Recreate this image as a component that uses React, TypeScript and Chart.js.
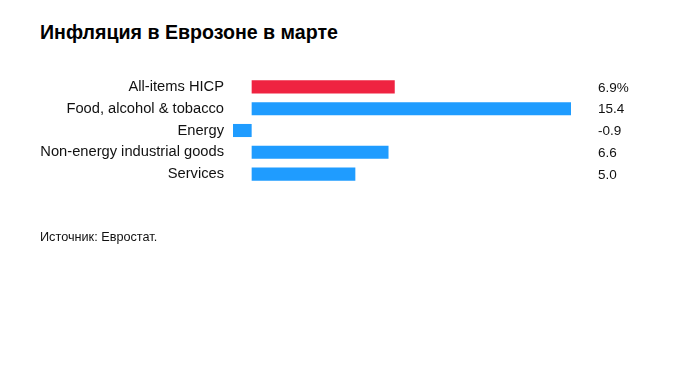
import React, { useEffect, useRef } from "react";
import { Chart, registerables } from "chart.js";

Chart.register(...registerables);

const categories = [
  "All-items HICP",
  "Food, alcohol & tobacco",
  "Energy",
  "Non-energy industrial goods",
  "Services",
];
const values = [6.9, 15.4, -0.9, 6.6, 5.0];
const valueLabels = ["6.9%", "15.4", "-0.9", "6.6", "5.0"];
const barColors = ["#EF2341", "#1F9CFF", "#1F9CFF", "#1F9CFF", "#1F9CFF"];

const FONT = "'Liberation Sans', Arial, sans-serif";

const valueLabelPlugin = {
  id: "valueLabels",
  afterDatasetsDraw(chart: any) {
    const { ctx, chartArea } = chart;
    const meta = chart.getDatasetMeta(0);
    ctx.save();
    ctx.font = `13.5px ${FONT}`;
    ctx.fillStyle = "#111";
    ctx.textAlign = "left";
    ctx.textBaseline = "middle";
    meta.data.forEach((bar: any, i: number) => {
      ctx.fillText(valueLabels[i], chartArea.right + 27, bar.y + 1);
    });
    ctx.restore();
  },
};

export default function App() {
  const ref = useRef<HTMLCanvasElement>(null);
  useEffect(() => {
    if (!ref.current) return;
    const chart = new Chart(ref.current, {
      type: "bar",
      data: {
        labels: categories,
        datasets: [
          {
            data: values,
            backgroundColor: barColors,
            borderWidth: 0,
            categoryPercentage: 1,
            barPercentage: 0.6,
          },
        ],
      },
      options: {
        indexAxis: "y",
        animation: false,
        responsive: false,
        events: [],
        layout: { padding: { left: 0, right: 108, top: 76, bottom: 192 } },
        plugins: { legend: { display: false }, tooltip: { enabled: false }, title: { display: false } },
        scales: {
          x: { display: false, min: -0.9, max: 15.4 },
          y: {
            grid: { display: false, drawTicks: false },
            border: { display: false },
            ticks: { color: "#111", font: { family: FONT, size: 14.7 }, padding: 9 },
            afterFit(scale: any) {
              scale.width = 233;
            },
          },
        },
      },
      plugins: [valueLabelPlugin],
    });
    return () => chart.destroy();
  }, []);

  return (
    <div style={{ position: "fixed", left: 0, top: 0, width: 679, height: 377, background: "#fff" }}>
      <div
        style={{
          position: "absolute",
          left: 40,
          top: 21,
          fontFamily: FONT,
          fontWeight: "bold",
          fontSize: 19.6,
          color: "#000",
          whiteSpace: "nowrap",
        }}
      >
        Инфляция в Еврозоне в марте
      </div>
      <canvas ref={ref} width={679} height={377} style={{ position: "absolute", left: 0, top: 0 }} />
      <div
        style={{
          position: "absolute",
          left: 40,
          top: 230,
          fontFamily: FONT,
          fontSize: 12.7,
          color: "#111",
          whiteSpace: "nowrap",
        }}
      >
        Источник: Евростат.
      </div>
    </div>
  );
}
